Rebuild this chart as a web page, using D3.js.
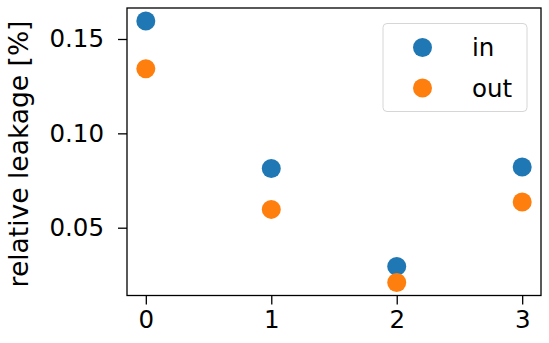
<!DOCTYPE html>
<html lang="en">
<head>
<meta charset="UTF-8" />
<title>relative leakage</title>
<script src="https://d3js.org/d3.v7.min.js"></script>
<style>
  body { margin: 0; background: #fff; }
  svg { display: block; font-family: "DejaVu Sans", sans-serif; }
  .axis text { font-size: 24.5px; fill: #000; font-family: "DejaVu Sans", sans-serif; }
  .axis path, .axis line { stroke: #000; stroke-width: 1.3; }
</style>
</head>
<body>
<svg id="chart"></svg>
<script>
// data
const xValues = [0, 1, 2, 3];
const inValues = [0.1595, 0.0814, 0.0295, 0.0822];
const outValues = [0.1342, 0.0597, 0.0210, 0.0636];
const seriesNames = ["in", "out"];
const seriesColors = ["#1f77b4", "#ff7f0e"];
const yTicks = [0.05, 0.10, 0.15];

const width = 549, height = 343;
const margin = { top: 8, right: 8, bottom: 47.5, left: 127 };

const svg = d3.select("#chart").attr("width", width).attr("height", height);

const x = d3.scaleLinear().domain([-0.15, 3.15]).range([margin.left, width - margin.right]);
const allY = inValues.concat(outValues);
const yMin = d3.min(allY), yMax = d3.max(allY), pad = (yMax - yMin) * 0.05;
const y = d3.scaleLinear().domain([yMin - pad, yMax + pad]).range([height - margin.bottom, margin.top]);

// axes
svg.append("g")
  .attr("class", "axis")
  .attr("transform", `translate(0,${height - margin.bottom})`)
  .call(d3.axisBottom(x).tickValues(xValues).tickFormat(d3.format("d")).tickSize(9).tickPadding(6).tickSizeOuter(0))
  .call(g => g.select(".domain").remove())
  .selectAll("text").attr("dy", "0.71em");

svg.append("g")
  .attr("class", "axis")
  .attr("transform", `translate(${margin.left},0)`)
  .call(d3.axisLeft(y).tickValues(yTicks).tickFormat(d3.format(".2f")).tickSize(9).tickPadding(14).tickSizeOuter(0))
  .call(g => g.select(".domain").remove());

// frame
svg.append("rect")
  .attr("x", margin.left).attr("y", margin.top)
  .attr("width", width - margin.left - margin.right)
  .attr("height", height - margin.top - margin.bottom)
  .attr("fill", "none").attr("stroke", "#000").attr("stroke-width", 1.3);

// y label
svg.append("text")
  .attr("transform", `translate(28,154) rotate(-90)`)
  .attr("text-anchor", "middle")
  .attr("font-size", 26.5)
  .text("relative leakage [%]");

// points
const series = [inValues, outValues];
series.forEach((vals, i) => {
  svg.append("g")
    .selectAll("circle")
    .data(vals)
    .join("circle")
    .attr("cx", (d, j) => x(xValues[j]))
    .attr("cy", d => y(d))
    .attr("r", 9.5)
    .attr("fill", seriesColors[i]);
});

// legend
const legend = svg.append("g").attr("transform", "translate(383,23.5)");
legend.append("rect")
  .attr("width", 144).attr("height", 88).attr("rx", 4)
  .attr("fill", "#fff").attr("fill-opacity", 0.8)
  .attr("stroke", "#d6d6d6").attr("stroke-width", 1);
seriesNames.forEach((name, i) => {
  const row = legend.append("g").attr("transform", `translate(0,${24 + i * 40.5})`);
  row.append("circle").attr("cx", 39.5).attr("cy", 0).attr("r", 9.5).attr("fill", seriesColors[i]);
  row.append("text").attr("x", 89).attr("y", 0).attr("dy", "0.35em")
    .attr("font-size", 24.5).text(name);
});
</script>
</body>
</html>
